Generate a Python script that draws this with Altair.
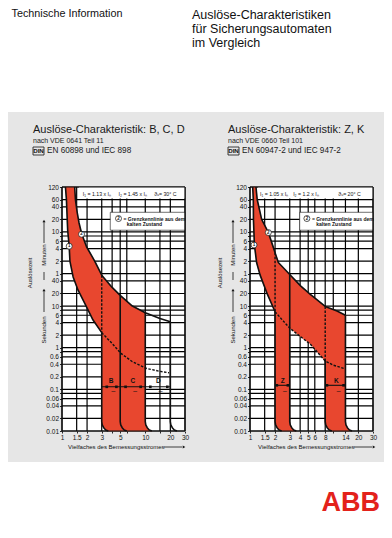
import json
import altair as alt
import pandas as pd

RED = "#e8472f"
GREY = "#e6e6e6"
INK = "#111111"
ABB_RED = "#e3221b"
FONT = "Liberation Sans"
W, H = 123, 244

# ---------------- axes: seconds (y), multiples of In (x) ----------------
Y_GRID = [7200, 3600, 2400, 1200, 600, 480, 360, 240, 120, 60, 40, 20, 10, 8, 6,
          4, 2, 1, 0.8, 0.6, 0.4, 0.2, 0.1, 0.08, 0.06, 0.04, 0.02, 0.01]
Y_UNLABELLED = [480, 8, 0.8, 0.08]
L_X_GRID = [1, 1.5, 2, 3, 4, 5, 6, 10, 15, 20, 30]
L_X_LABELS = [1, 1.5, 2, 3, 5, 10, 20, 30]
R_X_GRID = [1, 1.5, 2, 3, 4, 5, 6, 8, 10, 14, 20, 30]
R_X_LABELS = [1, 1.5, 2, 3, 4, 5, 6, 8, 14, 20, 30]

# bend at the foot of each band edge (x multiplier, seconds)
BEND_M = [1.0, 1.014, 1.056, 1.116, 1.2]
BEND_T = [0.0167, 0.0141, 0.012, 0.0106, 0.01]

# ---------------- left panel: B, C, D ----------------
L_UP_X = [1.42, 1.45, 1.52, 1.6, 1.72, 1.97, 2.47, 3.0, 4.0, 5.0, 7.0, 10.0, 15.0, 20.0]
L_UP_T = [7200, 3600, 1800, 1000, 550, 265, 120, 55, 28, 18, 10, 6.9, 5.0, 4.2]
L_LO_X = [1.10, 1.13, 1.17, 1.22, 1.245, 1.36, 1.56, 1.97, 2.36, 3.0, 4.0, 5.1, 7.0, 10.2, 15.0, 19.3]
L_LO_T = [7200, 3600, 660, 273, 120, 50, 24, 9.6, 4.6, 2.3, 1.26, 0.73, 0.46, 0.32, 0.27, 0.25]
L_MAG_SEGS = [[3, 20]]
L_MAG_T = 0.115
L_MAG_SQ = [3.45, 4.5, 5.8, 8.8, 11.5, 18.4]
L_BANDS = ["B", "C", "D"]
L_BAND_X = [3.9, 7.1, 14.4]
L_MARK_X = [1.22, 1.715]
L_MARK_T = [273, 530]
L_HEAD = ["I\u2081 = 1.13 x I\u2099", "I\u2082 = 1.45 x I\u2099", "\u03d1\u1d64= 30\u00b0 C"]
L_HEAD_X = [1.78, 4.77, 12.8]
L_HEAD_BOX = [1.6, 30, 3800, 7200]
L_LEG_BOX = [3.8, 30, 660, 1780]
L_LEG_SYM_X = 4.77
L_LEG_X = [5.47, 6.0]

# ---------------- right panel: Z, K ----------------
R_UP_X = [1.18, 1.22, 1.38, 1.66, 1.88, 2.0, 2.19, 3.0, 4.08, 5.3, 8.0, 11.1, 14.0]
R_UP_T = [7200, 3600, 1200, 585, 278, 190, 111, 57, 30, 19, 9.8, 7.6, 6.0]
R_LO_X = [1.077, 1.096, 1.10, 1.13, 1.2, 1.32, 1.62, 2.0, 2.5, 3.0, 4.0, 5.3, 8.0, 10.0, 14.0]
R_LO_T = [7200, 3600, 1200, 293, 111, 56, 19, 7.3, 4.4, 2.95, 1.87, 1.22, 0.48, 0.38, 0.31]
R_MAG_SEGS = [[2, 3], [8, 14]]
R_MAG_T = 0.125
R_MAG_SQ = [2.1, 2.85, 8.4, 13.3]
R_BANDS = ["Z", "K"]
R_BAND_X = [2.47, 10.9]
R_MARK_X = [1.117, 1.66]
R_MARK_T = [293, 582]
R_HEAD = ["I\u2081 = 1.05 x I\u2099", "I\u2082 = 1.2 x I\u2099", "\u03d1\u1d64= 20\u00b0 C"]
R_HEAD_X = [1.32, 3.3, 11.5]
R_HEAD_BOX = [1.25, 30, 3800, 7200]
R_LEG_BOX = [3.95, 30, 660, 1780]
R_LEG_SYM_X = 4.82
R_LEG_X = [5.54, 6.24]

HEAD_T = 4800
LEG_TXT = ["= Grenzkennlinie aus dem", "kalten Zustand"]
LEG_T = [1260, 946]
LABEL_T = 0.16
TILDE_T = 0.088

XS = alt.Scale(type="log", domain=[1, 30], nice=False)
YS = alt.Scale(type="log", domain=[0.01, 7200], nice=False)
ONE = pd.DataFrame({"k": [0]})


def pts(xs, ts):
    return list(zip(xs, ts))


def upto(c, xmax):
    return [p for p in c if p[0] <= xmax + 1e-9]


def between(c, a, b):
    return [p for p in c if a - 1e-9 <= p[0] <= b + 1e-9]


def at(c, x0):
    return next(t for x, t in c if abs(x - x0) < 1e-9)


def bend(x0):
    return [(x0 * m, t) for m, t in zip(BEND_M, BEND_T)]


def rev(lst):
    return list(reversed(lst))


def seg_df(segs):
    rows = []
    for g, s in enumerate(segs):
        for i, (x, t) in enumerate(s):
            rows.append({"g": g, "i": i, "x": x, "t": t})
    return pd.DataFrame(rows)


def y_axis():
    expr = (f"indexof({json.dumps(Y_UNLABELLED)}, datum.value) >= 0 ? '' : "
            "(datum.value >= 60 ? '' + (datum.value / 60) : '' + datum.value)")
    return alt.Axis(values=Y_GRID, labelExpr=expr, title=None, grid=False, domain=False,
                    tickSize=2.5, tickColor=INK, tickWidth=0.9, labelFont=FONT,
                    labelFontSize=6.5, labelColor=INK, labelPadding=1, labelOverlap=False,
                    labelFlush=False)


def x_axis(grid, labels):
    expr = f"indexof({json.dumps(labels)}, datum.value) >= 0 ? '' + datum.value : ''"
    return alt.Axis(values=grid, labelExpr=expr, title=None, grid=False, domain=False,
                    tickSize=2, tickColor=INK, tickWidth=0.9, labelFont=FONT,
                    labelFontSize=6.5, labelColor=INK, labelPadding=1, labelOverlap=False,
                    labelFlush=False)


def ptext(px, py, s, size, weight="normal", align="left", angle=0, color=INK, font=FONT):
    return alt.Chart(ONE).mark_text(text=s, fontSize=size, font=font, fontWeight=weight,
                                    color=color, align=align, baseline="middle",
                                    angle=angle).encode(x=alt.value(px), y=alt.value(py))


def prule(x1, y1, x2, y2, w=0.8, color=INK):
    return alt.Chart(ONE).mark_rule(color=color, strokeWidth=w).encode(
        x=alt.value(x1), x2=alt.value(x2), y=alt.value(y1), y2=alt.value(y2))


def prect(x1, y1, x2, y2, fill, stroke=None, w=0.0):
    kw = {"fill": fill}
    if stroke:
        kw.update(stroke=stroke, strokeWidth=w, fillOpacity=0)
    return alt.Chart(ONE).mark_rect(**kw).encode(
        x=alt.value(x1), x2=alt.value(x2), y=alt.value(y1), y2=alt.value(y2))


def parrow(x, y, shape):
    return alt.Chart(ONE).mark_point(shape=shape, filled=True, size=9, color=INK, opacity=1).encode(
        x=alt.value(x), y=alt.value(y))


def panel(poly, solid, dashed, xgrid, xlabels, mag_segs, mag_t, mag_sq, bands, band_x,
          mark_x, mark_t, head, head_x, head_box, leg_box, leg_sym_x, leg_x, extra):
    xax = x_axis(xgrid, xlabels)
    yax = y_axis()

    def X():
        return alt.X("x:Q", scale=XS, axis=xax)

    def Y():
        return alt.Y("t:Q", scale=YS, axis=yax)

    def box_layer(b, stroke=None):
        df = pd.DataFrame({"x": [b[0]], "x2": [b[1]], "t": [b[2]], "t2": [b[3]]})
        kw = {"fill": "white"}
        if stroke:
            kw.update(stroke=stroke, strokeWidth=0.6)
        return alt.Chart(df).mark_rect(**kw).encode(x=X(), x2="x2:Q", y=Y(), y2="t2:Q")

    poly_df = pd.DataFrame({"x": [p[0] for p in poly], "t": [p[1] for p in poly],
                            "i": list(range(len(poly)))})
    layers = [
        alt.Chart(pd.DataFrame({"x": xgrid})).mark_rule(color="#000000", strokeWidth=1.2,
                                                        opacity=1).encode(
            x=X(), y=alt.value(0), y2=alt.value(H)),
        alt.Chart(pd.DataFrame({"t": Y_GRID})).mark_rule(color="#000000", strokeWidth=1.2,
                                                         opacity=1).encode(
            y=Y(), x=alt.value(0), x2=alt.value(W)),
        alt.Chart(poly_df).mark_line(interpolate="linear-closed", fill=RED, stroke=RED,
                                     strokeWidth=0.4).encode(x=X(), y=Y(), order="i:Q"),
        box_layer(head_box),
        box_layer(leg_box, stroke=INK),
        alt.Chart(seg_df(solid)).mark_line(color=INK, strokeWidth=1.6, strokeJoin="round").encode(
            x=X(), y=Y(), detail="g:N", order="i:Q"),
        alt.Chart(seg_df(dashed)).mark_line(color=INK, strokeWidth=1.4, strokeDash=[2.5, 1.5]).encode(
            x=X(), y=Y(), detail="g:N", order="i:Q"),
        alt.Chart(seg_df([[(a, mag_t), (b, mag_t)] for a, b in mag_segs])).mark_line(
            color=INK, strokeWidth=1.1).encode(x=X(), y=Y(), detail="g:N", order="i:Q"),
        alt.Chart(pd.DataFrame({"x": mag_sq, "t": [mag_t] * len(mag_sq)})).mark_square(
            color=INK, size=7, opacity=1).encode(x=X(), y=Y()),
        alt.Chart(pd.DataFrame({"x": band_x, "t": [LABEL_T] * len(band_x), "s": bands})).mark_text(
            font=FONT, fontSize=6.5, fontWeight="bold", color=INK).encode(x=X(), y=Y(), text="s:N"),
        alt.Chart(pd.DataFrame({"x": [v * 1.06 for v in band_x], "t": [TILDE_T] * len(band_x),
                                "s": ["~"] * len(band_x)})).mark_text(
            font=FONT, fontSize=8, color=INK).encode(x=X(), y=Y(), text="s:N"),
        alt.Chart(pd.DataFrame({"x": mark_x + [leg_sym_x], "t": mark_t + [LEG_T[0]]})).mark_point(
            shape="circle", filled=True, fill="white", stroke=INK, strokeWidth=0.7, size=36,
            opacity=1).encode(x=X(), y=Y()),
        alt.Chart(pd.DataFrame({"x": mark_x + [leg_sym_x], "t": mark_t + [LEG_T[0]],
                                "s": ["1", "2", "2"]})).mark_text(
            font=FONT, fontSize=4.5, fontWeight="bold", color=INK).encode(x=X(), y=Y(), text="s:N"),
        alt.Chart(pd.DataFrame({"x": head_x, "t": [HEAD_T] * 3, "s": head})).mark_text(
            font=FONT, fontSize=5.2, color=INK, align="left").encode(x=X(), y=Y(), text="s:N"),
        alt.Chart(pd.DataFrame({"x": leg_x, "t": LEG_T, "s": LEG_TXT})).mark_text(
            font=FONT, fontSize=5.0, fontWeight="bold", color=INK, align="left").encode(
            x=X(), y=Y(), text="s:N"),
        prule(0, 0, W, 0, 1.2), prule(0, H, W, H, 1.2),
        prule(0, 0, 0, H, 1.2), prule(W, 0, W, H, 1.2),
    ]
    return alt.layer(*(extra[0] + layers + extra[1])).properties(width=W, height=H)


def side_titles(ax, mx):
    return [
        ptext(ax, 86, "Ausl\u00f6sezeit", 6, angle=270, align="center"),
        ptext(mx, 68, "Minuten", 6, angle=270, align="center"),
        prule(mx, 56, mx, 35), parrow(mx, 34, "triangle-up"),
        prule(mx, 85, mx, 93),
        ptext(mx, 143, "Sekunden", 6, angle=270, align="center"),
        prule(mx, 125, mx, 104), parrow(mx, 103, "triangle-up"),
    ]


def head_texts(x0, title, sub1, sub2):
    return [
        ptext(x0, -57, title, 11, color="#1a1a1a"),
        ptext(x0, -46, sub1, 7, color="#1a1a1a"),
        prule(x0, -40, x0 + 11, -40), prule(x0, -32, x0 + 11, -32),
        prule(x0, -40, x0, -32), prule(x0 + 11, -40, x0 + 11, -32),
        ptext(x0 + 5.5, -35.8, "DIN", 6.2, weight="bold", align="center"),
        ptext(x0 + 14, -36, sub2, 8.2, color="#1a1a1a"),
    ]


up_l, lo_l = pts(L_UP_X, L_UP_T), pts(L_LO_X, L_LO_T)
poly_l = upto(up_l, 10) + bend(10) + rev(bend(3)) + rev(upto(lo_l, 3))
solid_l = [up_l, upto(lo_l, 3), [(3, at(lo_l, 3))] + bend(3), [(5, at(up_l, 5))] + bend(5),
           [(10, at(up_l, 10))] + bend(10), [(20, at(up_l, 20))] + bend(20)]
dashed_l = [between(lo_l, 3, 100), [(3, at(up_l, 3)), (3, at(lo_l, 3))]]

up_r, lo_r = pts(R_UP_X, R_UP_T), pts(R_LO_X, R_LO_T)
poly_r = (upto(up_r, 14) + bend(14) + rev(bend(8)) + rev(between(lo_r, 3, 8)) + bend(3)
          + rev(bend(2)) + rev(upto(lo_r, 2)))
solid_r = [up_r, upto(lo_r, 2), [(2, at(lo_r, 2))] + bend(2), [(3, at(up_r, 3))] + bend(3),
           [(8, at(lo_r, 8))] + bend(8), [(14, at(up_r, 14))] + bend(14)]
dashed_r = [between(lo_r, 2, 100), [(2, at(up_r, 2)), (2, at(lo_r, 2))],
            [(8, at(up_r, 8)), (8, at(lo_r, 8))]]

left_before = [
    prect(-54, -179, 322, -75, "white"),
    prect(-54, 275, 322, 343, "white"),
    ptext(-50.5, -173, "Technische Information", 10.8),
    ptext(130, -172, "Ausl\u00f6se-Charakteristiken", 12.5),
    ptext(130, -158, "f\u00fcr Sicherungsautomaten", 12.5),
    ptext(130, -144, "im Vergleich", 12.5),
]
left_after = (head_texts(-29, "Ausl\u00f6se-Charakteristik: B, C, D", "nach VDE 0641 Teil 11",
                         "EN 60898 und IEC 898")
              + side_titles(-32, -18)
              + [ptext(6, 260, "Vielfaches des Bemessungsstromes", 6),
                 prule(102, 260, 120, 260), parrow(122, 260, "triangle-right")])

right_after = (head_texts(-22, "Ausl\u00f6se-Charakteristik: Z, K", "nach VDE 0660 Teil 101",
                          "EN 60947-2 und IEC 947-2")
               + side_titles(-30, -17)
               + [ptext(8, 260, "Vielfaches des Bemessungsstromes", 6),
                  prule(104, 260, 122, 260), parrow(124, 260, "triangle-right"),
                  ptext(130, 316, "ABB", 27, weight="bold", align="right", color=ABB_RED)])

left = panel(poly_l, solid_l, dashed_l, L_X_GRID, L_X_LABELS, L_MAG_SEGS, L_MAG_T, L_MAG_SQ,
             L_BANDS, L_BAND_X, L_MARK_X, L_MARK_T, L_HEAD, L_HEAD_X, L_HEAD_BOX, L_LEG_BOX,
             L_LEG_SYM_X, L_LEG_X, (left_before, left_after))
right = panel(poly_r, solid_r, dashed_r, R_X_GRID, R_X_LABELS, R_MAG_SEGS, R_MAG_T, R_MAG_SQ,
              R_BANDS, R_BAND_X, R_MARK_X, R_MARK_T, R_HEAD, R_HEAD_X, R_HEAD_BOX, R_LEG_BOX,
              R_LEG_SYM_X, R_LEG_X, ([], right_after))

chart = (alt.hconcat(left, right, spacing=65, bounds="flush")
         .configure_view(stroke=None, fill="white")
         .properties(background=GREY, padding=0))

chart.save("out.html", embed_options={"renderer": "svg", "actions": False})
